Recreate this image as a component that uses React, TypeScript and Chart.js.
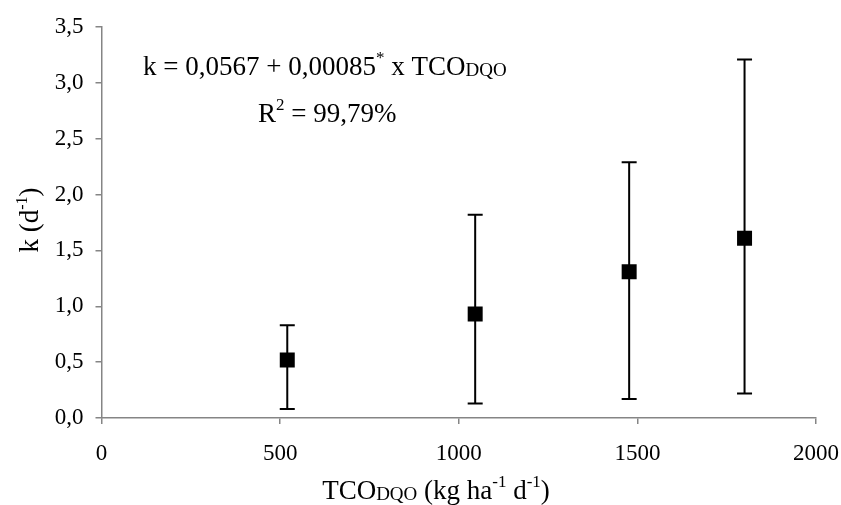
import React, { useEffect, useRef } from "react";
import { Chart, registerables } from "chart.js";

Chart.register(...registerables);

const xValues = [520, 1046, 1477, 1800];
const kValues = [0.52, 0.93, 1.31, 1.61];
const kLow = [0.08, 0.13, 0.17, 0.22];
const kHigh = [0.83, 1.82, 2.29, 3.21];
const xTicks = [0, 500, 1000, 1500, 2000];
const yTicks = [0, 0.5, 1, 1.5, 2, 2.5, 3, 3.5];

const FONT = "'Liberation Serif', 'Times New Roman', serif";

type Part = { t: string; s: number; dy?: number };

function drawRich(ctx: CanvasRenderingContext2D, parts: Part[], x: number, y: number, align: "left" | "center") {
  ctx.textAlign = "left";
  ctx.textBaseline = "alphabetic";
  let total = 0;
  const widths = parts.map((p) => {
    ctx.font = `${p.s}px ${FONT}`;
    const w = ctx.measureText(p.t).width;
    total += w;
    return w;
  });
  let cx = align === "center" ? x - total / 2 : x;
  parts.forEach((p, i) => {
    ctx.font = `${p.s}px ${FONT}`;
    ctx.fillText(p.t, cx, y + (p.dy || 0));
    cx += widths[i];
  });
}

const errorBars = {
  id: "errorBars",
  beforeDatasetsDraw(chart: any) {
    const { ctx, scales } = chart;
    const xs = scales.x;
    const ys = scales.y;
    ctx.save();
    ctx.strokeStyle = "#000";
    ctx.lineWidth = 2;
    xValues.forEach((xv, i) => {
      const px = xs.getPixelForValue(xv);
      const top = ys.getPixelForValue(kHigh[i]);
      const bot = ys.getPixelForValue(kLow[i]);
      ctx.beginPath();
      ctx.moveTo(px, top);
      ctx.lineTo(px, bot);
      ctx.moveTo(px - 7.5, top);
      ctx.lineTo(px + 7.5, top);
      ctx.moveTo(px - 7.5, bot);
      ctx.lineTo(px + 7.5, bot);
      ctx.stroke();
    });
    ctx.restore();
  },
};

const texts = {
  id: "texts",
  afterDraw(chart: any) {
    const { ctx } = chart;
    ctx.save();
    ctx.fillStyle = "#000";
    // annotation
    drawRich(
      ctx,
      [
        { t: "k = 0,0567 + 0,00085", s: 27 },
        { t: "*", s: 17, dy: -12 },
        { t: " x TCO", s: 27 },
        { t: "DQO", s: 19, dy: 1 },
      ],
      143,
      75,
      "left"
    );
    drawRich(
      ctx,
      [
        { t: "R", s: 27 },
        { t: "2", s: 17, dy: -12 },
        { t: " = 99,79%", s: 27 },
      ],
      258,
      122,
      "left"
    );
    // x title
    drawRich(
      ctx,
      [
        { t: "TCO", s: 27 },
        { t: "DQO", s: 19, dy: 1 },
        { t: " (kg ha", s: 27 },
        { t: "-1", s: 17, dy: -12 },
        { t: " d", s: 27 },
        { t: "-1", s: 17, dy: -12 },
        { t: ")", s: 27 },
      ],
      436,
      499,
      "center"
    );
    // y title
    ctx.translate(38, 220);
    ctx.rotate(-Math.PI / 2);
    drawRich(
      ctx,
      [
        { t: "k (d", s: 27 },
        { t: "-1", s: 16, dy: -11 },
        { t: ")", s: 27 },
      ],
      0,
      0,
      "center"
    );
    ctx.restore();
  },
};

export default function App() {
  const ref = useRef<HTMLCanvasElement>(null);
  useEffect(() => {
    if (!ref.current) return;
    const axisColor = "#858585";
    const chart = new Chart(ref.current, {
      type: "scatter",
      data: {
        datasets: [
          {
            data: xValues.map((x, i) => ({ x, y: kValues[i] })),
            pointStyle: "rect",
            pointRadius: 10.6,
            backgroundColor: "#000",
            borderColor: "#000",
            borderWidth: 0,
          },
        ],
      },
      options: {
        animation: false,
        responsive: false,
        devicePixelRatio: 1,
        layout: { padding: { top: 27, right: 25, left: 0, bottom: 0 } },
        plugins: { legend: { display: false }, tooltip: { enabled: false } },
        scales: {
          x: {
            type: "linear",
            min: 0,
            max: 2000,
            afterBuildTicks: (s: any) => {
              s.ticks = xTicks.map((v) => ({ value: v }));
            },
            afterFit: (s: any) => {
              s.height = 87;
              s.paddingLeft = 0;
              s.paddingRight = 0;
            },
            grid: { display: true, drawOnChartArea: false, drawTicks: true, tickLength: 6, color: axisColor, lineWidth: 1.5 },
            border: { display: true, color: axisColor, width: 1.5 },
            ticks: {
              color: "#000",
              font: { family: FONT, size: 23 },
              padding: 16,
              maxRotation: 0,
              autoSkip: false,
              callback: (v: any) => String(v),
            },
          },
          y: {
            type: "linear",
            min: 0,
            max: 3.5,
            afterBuildTicks: (s: any) => {
              s.ticks = yTicks.map((v) => ({ value: v }));
            },
            afterFit: (s: any) => {
              s.width = 101.5;
              s.paddingTop = 0;
              s.paddingBottom = 0;
            },
            grid: { display: true, drawOnChartArea: false, drawTicks: true, tickLength: 6, color: axisColor, lineWidth: 1.5 },
            border: { display: true, color: axisColor, width: 1.5 },
            ticks: {
              color: "#000",
              font: { family: FONT, size: 23 },
              padding: 12,
              autoSkip: false,
              callback: (v: any) => Number(v).toFixed(1).replace(".", ","),
            },
          },
        },
      },
      plugins: [errorBars, texts],
    } as any);
    return () => chart.destroy();
  }, []);
  return (
    <div style={{ position: "absolute", left: 0, top: 0, width: 841, height: 505, background: "#fff" }}>
      <canvas ref={ref} width={841} height={505} />
    </div>
  );
}
